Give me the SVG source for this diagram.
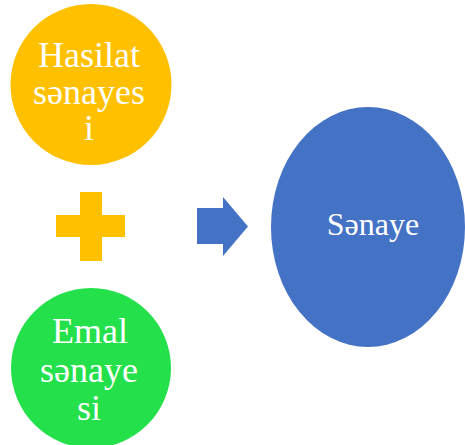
<svg xmlns="http://www.w3.org/2000/svg" width="465" height="445" viewBox="0 0 465 445">
<style>
.t{font-family:"Liberation Serif","Times New Roman",serif;fill:#fff;text-anchor:middle}
.c{font-size:36px}
</style>
<rect width="465" height="445" fill="#fff"/>
<g id="hasilat">
<circle cx="91" cy="84.5" r="80.5" fill="#FFC000"/>
<text class="t c" x="89" y="67">Hasilat</text>
<text class="t c" x="89" y="104">sənayes</text>
<text class="t c" x="89" y="140">i</text>
</g>
<g id="plus">
<path d="M80 192H102V215H125V237H102V261H80V237H56V215H80Z" fill="#FFC000"/>
</g>
<g id="emal">
<circle cx="91" cy="368" r="80" fill="#23E04B"/>
<text class="t c" x="90" y="343">Emal</text>
<text class="t c" x="89" y="382">sənaye</text>
<text class="t c" x="89" y="420">si</text>
</g>
<g id="connectors">
<path d="M197 208H223V197L248 226.5L223 256V244H197Z" fill="#4472C4"/>
</g>
<g id="senaye">
<ellipse cx="368" cy="227" rx="97" ry="120" fill="#4472C4"/>
<text class="t" x="373" y="235" font-size="32">Sənaye</text>
</g>
</svg>
